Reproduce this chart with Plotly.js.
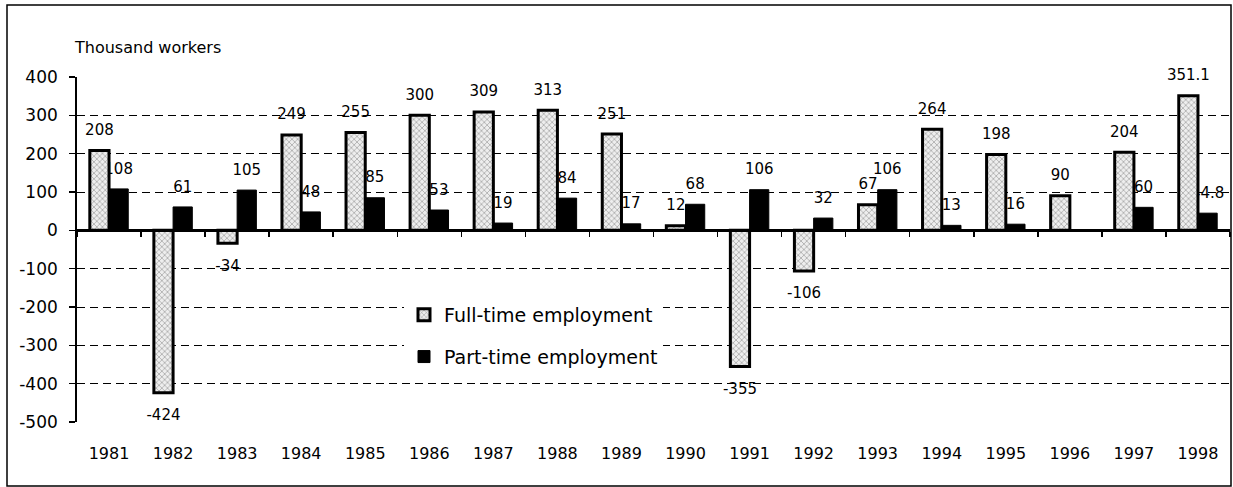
<!DOCTYPE html>
<html>
<head>
<meta charset="utf-8">
<script src="https://cdn.plot.ly/plotly-3.0.1.min.js"></script>
<style>html,body{margin:0;padding:0;background:#fff;}#chart{width:1233px;height:487px;}</style>
</head>
<body>
<div id="chart"></div>
<script>
// ---- data ----
const years = ["1981","1982","1983","1984","1985","1986","1987","1988","1989","1990","1991","1992","1993","1994","1995","1996","1997","1998"];
const fullTime = [208, -424, -34, 249, 255, 300, 309, 313, 251, 12, -355, -106, 67, 264, 198, 90, 204, 351.1];
const partTime = [108, 61, 105, 48, 85, 53, 19, 84, 17, 68, 106, 32, 106, 13, 16, null, 60, 44.8];
const yTickVals = [400, 300, 200, 100, 0, -100, -200, -300, -400, -500];
const yTickText = ["400", "300", "200", "100", "0", "-100", "-200", "-300", "-400", "-500"];
const seriesNames = ["Full-time employment", "Part-time employment"];
const yTitle = "Thousand workers";
const yRange = [-500, 400];

const FONT = "DejaVu Sans, sans-serif";
const LABEL_SIZE = 15;

// label text with a small spacer line so the outside labels sit a little further from the bar end
function padLabel(v) {
  if (v === null) return "";
  const s = '<span style="font-size:' + LABEL_SIZE + 'px">' + String(v) + '</span>';
  return v >= 0 ? s + "<br>\u00a0" : "\u00a0<br>" + s;
}
function padSize(v) { return (v !== null && v < 0) ? 11 : 8; }

const partTrace = {
  type: "bar",
  name: seriesNames[1],
  x: years,
  y: partTime,
  xaxis: "x", yaxis: "y",
  width: 0.3, offset: 0,
  text: partTime.map(padLabel),
  texttemplate: "%{text}",
  textposition: "outside",
  constraintext: "none",
  cliponaxis: false,
  textfont: {family: FONT, size: partTime.map(padSize), color: "#000"},
  marker: {color: "#000", line: {color: "#000", width: 1}},
  legendgroup: "p", legendrank: 2,
  hoverinfo: "x+y"
};

const fullTrace = {
  type: "bar",
  name: seriesNames[0],
  x: years,
  y: fullTime,
  xaxis: "x2", yaxis: "y",
  width: 0.3, offset: -0.3,
  text: fullTime.map(padLabel),
  texttemplate: "%{text}",
  textposition: "outside",
  constraintext: "none",
  cliponaxis: false,
  textfont: {family: FONT, size: fullTime.map(padSize), color: "#000"},
  marker: {
    color: "#eeeeee",
    line: {color: "#000", width: 3},
    pattern: {shape: "x", fgcolor: "#777", bgcolor: "#eeeeee", size: 4, solidity: 0.22}
  },
  legendgroup: "f", legendrank: 1,
  hoverinfo: "x+y"
};

// part-time first so the full-time bars (overlay subplot) are drawn above part-time labels
const data = [partTrace, fullTrace];

const L = 77, R = 3, T = 77, B = 65, W = 1233, H = 487;
const pw = W - L - R, ph = H - T - B;
const px = (p) => (p - L) / pw;       // pixel -> paper x
const py = (p) => (H - B - p) / ph;   // pixel -> paper y
const zeroPos = (0 - yRange[0]) / (yRange[1] - yRange[0]);
const xRange = [-0.5, years.length - 0.5];

const layout = {
  width: W, height: H,
  margin: {l: L, r: R, t: T, b: B, pad: 0},
  paper_bgcolor: "#fff",
  plot_bgcolor: "#fff",
  font: {family: FONT, color: "#000", size: 16},
  barmode: "overlay",
  showlegend: true,
  legend: {
    x: px(404), y: py(296), xanchor: "left", yanchor: "top",
    bgcolor: "#fff", borderwidth: 0,
    font: {family: FONT, size: 19, color: "#000"},
    traceorder: "grouped",
    tracegroupgap: 14,
    itemwidth: 30
  },
  xaxis: {
    type: "category",
    categoryorder: "array",
    categoryarray: years,
    range: xRange,
    showgrid: false,
    showline: false,
    zeroline: false,
    ticks: "",
    ticklabelstandoff: 20,
    tickfont: {family: FONT, size: 16, color: "#000"},
    fixedrange: true
  },
  xaxis2: {
    type: "category",
    categoryorder: "array",
    categoryarray: years,
    range: xRange,
    overlaying: "x",
    anchor: "free",
    side: "bottom",
    position: zeroPos,
    showgrid: false, zeroline: false,
    showline: true, linecolor: "#000", linewidth: 1.8,
    showticklabels: true,
    tickfont: {size: 1, color: "rgba(0,0,0,0)"},
    ticks: "outside", tickson: "boundaries", ticklen: 5, tickwidth: 1.5, tickcolor: "#000",
    fixedrange: true
  },
  yaxis: {
    range: yRange,
    tickvals: yTickVals,
    ticktext: yTickText,
    showgrid: true,
    gridcolor: "#000",
    gridwidth: 1,
    griddash: "8px,5px",
    zeroline: true,
    zerolinecolor: "#000",
    zerolinewidth: 1.8,
    showline: true,
    linecolor: "#000",
    linewidth: 1.8,
    ticks: "outside",
    ticklen: 6,
    tickwidth: 1.5,
    tickcolor: "#000",
    ticklabelstandoff: 8,
    tickfont: {family: FONT, size: 17, color: "#000"},
    fixedrange: true
  },
  annotations: [{
    text: yTitle,
    xref: "paper", yref: "paper",
    x: px(72), y: py(47),
    xanchor: "left", yanchor: "middle",
    showarrow: false,
    font: {family: FONT, size: 16, color: "#000"}
  }],
  shapes: [{
    type: "rect", xref: "paper", yref: "paper",
    x0: px(7), x1: px(1231), y0: py(486), y1: py(5),
    line: {color: "#000", width: 1.5},
    fillcolor: "rgba(0,0,0,0)",
    layer: "below"
  }]
};

Plotly.newPlot("chart", data, layout, {staticPlot: true, displayModeBar: false});
</script>
</body>
</html>
